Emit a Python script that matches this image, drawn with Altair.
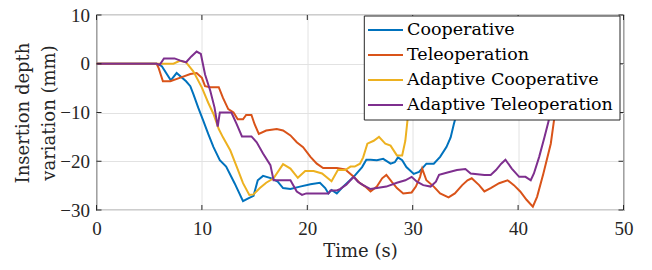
import altair as alt
import pandas as pd

series_names = ["Cooperative", "Teleoperation", "Adaptive Cooperative", "Adaptive Teleoperation"]
series_colors = ["#0072BD", "#D95319", "#EDB120", "#7E2F8E"]

coop_t = [0, 5.7, 6.2, 7.05, 7.6, 8.5, 8.9, 9.2, 9.65, 10.1, 10.6, 11.1, 11.7, 12.3, 13.1, 13.9, 14.4, 14.9,
          15.3, 15.8, 16.6, 17.2, 17.7, 18.4, 19.3, 20.3, 21.2, 21.7, 22.0, 22.3, 22.8, 23.4, 24.4, 25.2,
          25.6, 26.0, 26.6, 27.2, 27.9, 28.3, 28.6, 29.0, 29.4, 30.1, 30.6, 31.3, 32.0, 32.6, 33.2, 33.6,
          33.9, 34.2, 34.6]
coop_v = [0, 0, -0.5, -3.4, -1.9, -3.6, -4.6, -6.3, -9.0, -11.5, -14.4, -17.1, -19.8, -21.1, -24.5, -28.2,
          -27.6, -27.1, -23.9, -23.0, -23.5, -24.2, -25.5, -25.7, -25.2, -24.7, -24.4, -25.5, -26.6, -25.9,
          -26.6, -25.2, -23.2, -21.2, -19.7, -19.7, -19.8, -19.5, -20.5, -20.2, -19.2, -19.8, -21.2, -22.6,
          -22.2, -20.5, -20.5, -19.1, -17.1, -15.1, -12.4, -10.0, -5.0]

tele_t = [0, 5.7, 5.9, 6.3, 7.0, 7.9, 8.9, 9.5, 10.0, 10.3, 10.8, 11.6, 12.0, 12.5, 13.0, 13.4, 13.9, 14.2,
          14.7, 15.0, 15.4, 16.1, 17.1, 17.7, 18.4, 19.0, 19.6, 20.3, 20.9, 21.5, 22.8, 23.6, 24.4, 25.0,
          25.5, 26.0, 26.6, 27.1, 27.5, 28.0, 28.5, 29.1, 29.9, 30.3, 30.7, 30.9, 31.3, 32.0, 32.6, 33.4,
          34.0, 34.7, 35.2, 35.6, 36.3, 36.8, 37.4, 38.2, 39.0, 39.6, 40.2, 40.8, 41.4, 41.8, 42.4, 43.1,
          43.4, 43.8]
tele_v = [0, 0, -0.9, -3.6, -3.6, -2.9, -2.1, -1.9, -2.9, -4.6, -4.8, -4.8, -7.0, -9.3, -10.0, -11.4, -11.4,
          -10.5, -10.5, -12.4, -14.4, -13.7, -13.4, -13.7, -14.7, -16.1, -17.1, -19.1, -20.5, -21.4, -21.4,
          -21.7, -23.2, -24.5, -25.2, -26.2, -25.2, -23.5, -22.8, -24.2, -25.5, -26.6, -26.4, -25.2, -23.2,
          -21.5, -23.9, -25.2, -26.6, -27.4, -26.6, -24.9, -23.9, -23.5, -24.9, -26.2, -25.5, -24.5, -23.9,
          -24.9, -26.2, -27.9, -29.3, -27.3, -22.5, -16.4, -11.7, -6.0]

acoop_t = [0, 5.7, 7.3, 7.9, 8.5, 9.2, 10.0, 10.6, 11.1, 11.6, 12.0, 12.7, 13.3, 13.9, 14.5, 14.9, 15.5, 16.1,
           16.8, 17.7, 18.4, 19.1, 19.8, 20.6, 21.4, 22.3, 22.9, 23.6, 24.1, 24.5, 25.0, 25.3, 25.7, 26.3,
           26.8, 27.4, 27.9, 28.5, 29.0, 29.3, 29.5, 29.8]
acoop_v = [0, 0, 0, 0.6, 0.3, -1.6, -4.9, -8.0, -10.3, -13.4, -15.1, -17.8, -21.1, -24.5, -26.9, -26.8,
           -25.5, -24.4, -23.5, -20.6, -21.5, -23.4, -22.0, -22.0, -22.5, -24.1, -21.8, -21.8, -21.1, -21.1,
           -20.5, -19.2, -16.4, -15.8, -15.0, -16.4, -16.8, -18.8, -18.8, -15.8, -11.7, -6.0]

atele_t = [0, 5.7, 6.0, 6.4, 7.4, 7.9, 8.5, 9.0, 9.5, 9.9, 10.3, 10.8, 11.2, 11.5, 11.7, 12.8, 13.3, 13.8,
           14.7, 15.2, 15.8, 16.5, 16.8, 18.4, 19.0, 19.5, 19.9, 22.0, 22.2, 22.8, 23.1, 23.7, 24.4, 24.8,
           25.3, 26.0, 26.6, 27.5, 28.5, 29.3, 29.9, 30.4, 31.0, 31.7, 32.2, 32.5, 33.3, 34.2, 35.0, 35.5,
           36.8, 37.4, 37.9, 38.4, 38.8, 39.4, 40.1, 40.7, 41.2, 41.5, 42.0, 42.5, 42.9, 43.3]
atele_v = [0, 0, -0.2, 1.1, 1.1, 0.7, 0.3, 1.5, 2.5, 2.0, -2.2, -5.6, -9.0, -12.9, -10.0, -10.0, -12.4,
           -14.9, -14.9, -16.1, -18.4, -20.8, -23.9, -23.9, -26.2, -26.9, -26.6, -26.6, -26.0, -26.0, -25.7,
           -24.8, -23.2, -24.2, -24.9, -25.7, -25.5, -25.2, -24.4, -23.9, -23.2, -24.2, -24.9, -25.2, -24.2,
           -22.8, -22.3, -21.8, -21.6, -22.5, -22.8, -22.8, -21.8, -20.5, -19.7, -21.5, -23.2, -23.2, -23.9,
           -22.5, -19.1, -15.1, -11.7, -6.0]

x_ticks = [0, 10, 20, 30, 40, 50]
y_ticks = [-30, -20, -10, 0, 10]

rows = []
for name, ts, vs in zip(series_names, [coop_t, tele_t, acoop_t, atele_t], [coop_v, tele_v, acoop_v, atele_v]):
    for i, (t, v) in enumerate(zip(ts, vs)):
        rows.append({"series": name, "t": t, "v": v, "order": i})
df = pd.DataFrame(rows)

W, H = 527, 195
AX = "#262626"
TICK_FONT = "Liberation Serif, serif"
TEXT_FONT = "DejaVu Serif, serif"
color_scale = alt.Scale(domain=series_names, range=series_colors)
xs = alt.Scale(domain=[0, 50], nice=False, zero=False)
ys = alt.Scale(domain=[-30, 10], nice=False, zero=False)

x_axis = alt.Axis(values=x_ticks, title="Time (s)", grid=True, gridColor="#e2e2e2", domain=False,
                  ticks=False, tickSize=0, labelFont=TICK_FONT, labelFontSize=19,
                  labelColor=AX, labelPadding=24, labelBaseline="alphabetic", labelFlush=False,
                  labelOverlap=False, titleFont=TEXT_FONT, titleFontSize=18,
                  titleFontWeight="normal", titleColor=AX, titleX=W / 2, titleY=46,
                  titleAlign="center", titleBaseline="alphabetic")
y_axis = alt.Axis(values=y_ticks, title=["Insertion depth", "variation (mm)"], grid=True,
                  gridColor="#e2e2e2", domain=False, ticks=False, tickSize=0,
                  labelFont=TICK_FONT, labelFontSize=19, labelColor=AX, labelPadding=7,
                  labelFlush=False, labelOverlap=False, titleFont=TEXT_FONT, titleFontSize=18,
                  titleFontWeight="normal", titleColor=AX, titleX=-68, titleY=H / 2, titleAngle=270,
                  titleAlign="center", titleBaseline="alphabetic", titleLineHeight=26)

x_enc = alt.X("t:Q", scale=xs, axis=x_axis)
y_enc = alt.Y("v:Q", scale=ys, axis=y_axis)

lines = alt.Chart(df).mark_line(strokeWidth=2, clip=True).encode(
    x=x_enc, y=y_enc,
    color=alt.Color("series:N", scale=color_scale, legend=None),
    order="order:Q",
)

xt = pd.DataFrame({"t": x_ticks})
yt = pd.DataFrame({"v": y_ticks})
tick_bottom = alt.Chart(xt).mark_rule(color=AX, strokeWidth=1).encode(
    x=x_enc, y=alt.value(H), y2=alt.value(H - 5))
tick_top = alt.Chart(xt).mark_rule(color=AX, strokeWidth=1).encode(
    x=x_enc, y=alt.value(0), y2=alt.value(5))
tick_left = alt.Chart(yt).mark_rule(color=AX, strokeWidth=1).encode(
    y=y_enc, x=alt.value(0), x2=alt.value(5))
tick_right = alt.Chart(yt).mark_rule(color=AX, strokeWidth=1).encode(
    y=y_enc, x=alt.value(W), x2=alt.value(W - 5))

main = alt.layer(lines, tick_bottom, tick_top, tick_left, tick_right)

legend_df = pd.DataFrame({"series": series_names, "row": list(range(len(series_names)))})
row_scale = alt.Scale(domain=[0, 3], range=[15, 90])
box = alt.Chart(pd.DataFrame({"a": [0]})).mark_rect(fill="white", stroke=AX, strokeWidth=1).encode(
    x=alt.value(267.8), x2=alt.value(523.5), y=alt.value(1), y2=alt.value(105))
leg_lines = alt.Chart(legend_df).mark_rule(strokeWidth=2).encode(
    x=alt.value(271.5), x2=alt.value(306.5),
    y=alt.Y("row:Q", scale=row_scale, axis=None),
    color=alt.Color("series:N", scale=color_scale, legend=None))
leg_text = alt.Chart(legend_df).mark_text(align="left", baseline="middle", font=TEXT_FONT,
                                          fontSize=17.5, color="#000000").encode(
    x=alt.value(310.5), y=alt.Y("row:Q", scale=row_scale, axis=None), text="series:N")
legend = alt.layer(box, leg_lines, leg_text)

chart = alt.layer(main, legend).resolve_scale(y="independent").properties(
    width=W, height=H,
    autosize=alt.AutoSizeParams(type="none"),
    padding={"left": 88.5, "top": 7, "right": 20.5, "bottom": 52},
    background="white",
).configure_view(stroke="#3a3a3a", strokeWidth=1.2)

chart.save("out.html", embed_options={"renderer": "svg", "actions": False})
